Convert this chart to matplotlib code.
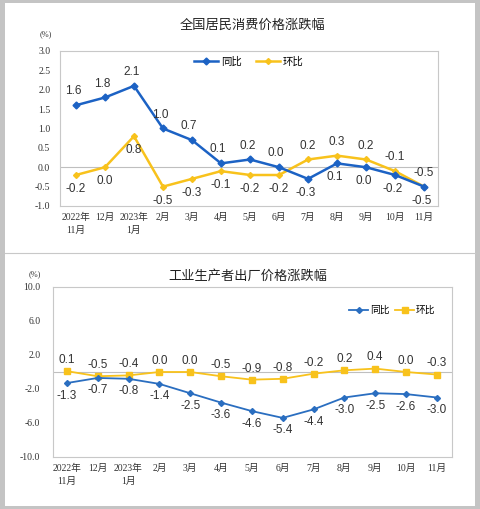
import matplotlib
matplotlib.use('Agg')
import matplotlib.pyplot as plt
from matplotlib.patches import Rectangle
from matplotlib.lines import Line2D

plt.rcParams['font.family'] = ['Liberation Sans', 'Noto Sans CJK SC', 'DejaVu Sans']
plt.rcParams['axes.unicode_minus'] = False

# 数据
months = ['2022年\n11月', '12月', '2023年\n1月', '2月', '3月', '4月', '5月',
          '6月', '7月', '8月', '9月', '10月', '11月']
cpi_yoy = [1.6, 1.8, 2.1, 1.0, 0.7, 0.1, 0.2, 0.0, -0.3, 0.1, 0.0, -0.2, -0.5]
cpi_mom = [-0.2, 0.0, 0.8, -0.5, -0.3, -0.1, -0.2, -0.2, 0.2, 0.3, 0.2, -0.1, -0.5]
ppi_yoy = [-1.3, -0.7, -0.8, -1.4, -2.5, -3.6, -4.6, -5.4, -4.4, -3.0, -2.5, -2.6, -3.0]
ppi_mom = [0.1, -0.5, -0.4, 0.0, 0.0, -0.5, -0.9, -0.8, -0.2, 0.2, 0.4, 0.0, -0.3]
cpi_yticks = [-1.0, -0.5, 0.0, 0.5, 1.0, 1.5, 2.0, 2.5, 3.0]
ppi_yticks = [-10.0, -6.0, -2.0, 2.0, 6.0, 10.0]

# 标签位置: 1 上方, -1 下方
cpi_yoy_side = [1, 1, 1, 1, 1, 1, 1, 1, -1, -1, -1, -1, -1]
cpi_mom_side = [-1, -1, -1, -1, -1, -1, -1, -1, 1, 1, 1, 1, 1]

W, H = 480, 509
fig = plt.figure(figsize=(W / 100, H / 100), dpi=100, facecolor='#c4c4c4')

# 白色背景面板
fig.patches.append(Rectangle((5 / W, 1 - 506 / H), 470 / W, 503 / H,
                             transform=fig.transFigure, facecolor='white',
                             edgecolor='none', zorder=-10))
fig.lines.append(Line2D([5 / W, 475 / W], [1 - 253 / H, 1 - 253 / H],
                        transform=fig.transFigure, color='#c8c8c8', lw=0.8,
                        zorder=-5))

serif = ['Liberation Serif', 'Noto Sans CJK SC']
blue = '#1c62c4'
yellow = '#f8c21c'

x = list(range(len(months)))


def style_axes(ax, yticks, ypad):
    ax.set_xticks(x)
    ax.set_xticklabels(months, fontsize=7, family=serif, color='#333333',
                       linespacing=1.5)
    ax.set_yticks(yticks)
    ax.set_yticklabels(['%.1f' % v for v in yticks], fontsize=7, family=serif,
                       color='#333333')
    ax.tick_params(axis='both', length=0)
    ax.tick_params(axis='y', pad=ypad)
    ax.tick_params(axis='x', pad=5)
    for s in ax.spines.values():
        s.set_color('#c8c8c8')
        s.set_linewidth(0.8)
    ax.axhline(0, color='#bfbfbf', lw=0.8, zorder=1)


# ---- 上图: CPI ----
ax1 = fig.add_axes([60 / W, 1 - 206 / H, 378 / W, 155 / H])
ax1.set_xlim(-0.55, 12.48)
ax1.set_ylim(-1.0, 3.0)
style_axes(ax1, cpi_yticks, 7)
ax1.plot(x, cpi_yoy, color=blue, lw=1.8, marker='D', markersize=3.5,
         label='同比', zorder=3)
ax1.plot(x, cpi_mom, color=yellow, lw=1.8, marker='D', markersize=3,
         label='环比', zorder=2)
for i in x:
    ax1.annotate('%.1f' % cpi_yoy[i], (i, cpi_yoy[i]),
                 xytext=(-2, 10 * cpi_yoy_side[i]), textcoords='offset points',
                 ha='center', va='center', fontsize=8.5, color='#333333')
    ax1.annotate('%.1f' % cpi_mom[i], (i, cpi_mom[i]),
                 xytext=(0, 10 * cpi_mom_side[i]), textcoords='offset points',
                 ha='center', va='center', fontsize=8.5, color='#333333')
ax1.legend(loc='center', bbox_to_anchor=(0.5, 0.93), ncol=2, frameon=False,
           fontsize=7.5, handlelength=2.3, columnspacing=1.3, handletextpad=0.3)
fig.text(253 / W, 1 - 25 / H, '全国居民消费价格涨跌幅', ha='center', va='center',
         fontsize=9.5, color='#222222', family='Noto Sans CJK SC')
fig.text(46 / W, 1 - 34 / H, '(%)', ha='center', va='center', fontsize=6,
         family=serif, color='#333333')

# ---- 下图: PPI ----
ax2 = fig.add_axes([53 / W, 1 - 457 / H, 399 / W, 170 / H])
ax2.set_xlim(-0.45, 12.49)
ax2.set_ylim(-10.0, 10.0)
style_axes(ax2, ppi_yticks, 9)
ax2.plot(x, ppi_yoy, color='#2a6ec0', lw=1.3, marker='D', markersize=3,
         label='同比', zorder=3)
ax2.plot(x, ppi_mom, color=yellow, lw=1.3, marker='s', markersize=4,
         label='环比', zorder=2)
for i in x:
    ax2.annotate('%.1f' % ppi_yoy[i], (i, ppi_yoy[i]),
                 xytext=(0, -9), textcoords='offset points',
                 ha='center', va='center', fontsize=8.5, color='#333333')
    ax2.annotate('%.1f' % ppi_mom[i], (i, ppi_mom[i]),
                 xytext=(0, 8), textcoords='offset points',
                 ha='center', va='center', fontsize=8.5, color='#333333')
ax2.legend(loc='center left', bbox_to_anchor=(0.72, 0.865), ncol=2,
           frameon=False, fontsize=7, handlelength=2.0, columnspacing=0.5,
           handletextpad=0.2)
fig.text(248 / W, 1 - 276 / H, '工业生产者出厂价格涨跌幅', ha='center', va='center',
         fontsize=9.5, color='#222222', family='Noto Sans CJK SC')
fig.text(35 / W, 1 - 274 / H, '(%)', ha='center', va='center', fontsize=6,
         family=serif, color='#333333')

fig.savefig('out.png', dpi=100, facecolor=fig.get_facecolor())
